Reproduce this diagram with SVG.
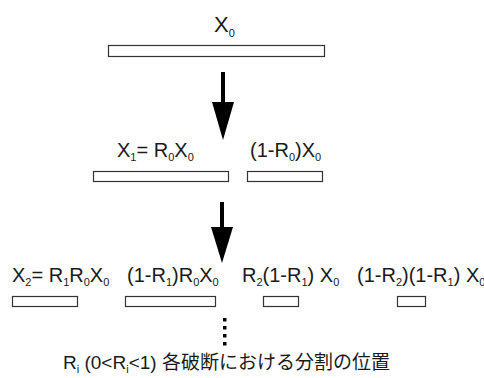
<svg xmlns="http://www.w3.org/2000/svg" width="484" height="378" viewBox="0 0 484 378">
<defs>
<style>
text{font-family:"Liberation Sans","Noto Sans CJK JP",sans-serif;fill:#1a1a1a;font-size:20px}
.s{font-size:11px}
.bar{fill:#fff;stroke:#333;stroke-width:1.2}
.ar{stroke:#000;stroke-width:4}
</style>
</defs>
<rect width="484" height="378" fill="#fff"/>
<g id="top">
<text x="214" y="32" style="font-size:22px">X<tspan class="s" dy="5">0</tspan></text>
<rect class="bar" x="108.5" y="45.5" width="216" height="11"/>
</g>
<g id="row1-left">
<text x="117" y="157">X<tspan class="s" dy="4">1</tspan><tspan dy="-4">= R</tspan><tspan class="s" dy="4">0</tspan><tspan dy="-4">X</tspan><tspan class="s" dy="4">0</tspan></text>
<rect class="bar" x="93.5" y="171.5" width="135" height="10"/>
</g>
<g id="row1-right">
<text x="250" y="157">(1-R<tspan class="s" dy="4">0</tspan><tspan dy="-4">)X</tspan><tspan class="s" dy="4">0</tspan></text>
<rect class="bar" x="247.5" y="171.5" width="75" height="10"/>
</g>
<g id="row2-a">
<text x="12" y="282">X<tspan class="s" dy="4">2</tspan><tspan dy="-4">= R</tspan><tspan class="s" dy="4">1</tspan><tspan dy="-4">R</tspan><tspan class="s" dy="4">0</tspan><tspan dy="-4">X</tspan><tspan class="s" dy="4">0</tspan></text>
<rect class="bar" x="12.5" y="296.5" width="65" height="10"/>
</g>
<g id="row2-b">
<text x="127" y="282">(1-R<tspan class="s" dy="4">1</tspan><tspan dy="-4">)R</tspan><tspan class="s" dy="4">0</tspan><tspan dy="-4">X</tspan><tspan class="s" dy="4">0</tspan></text>
<rect class="bar" x="125.5" y="296.5" width="90" height="10"/>
</g>
<g id="row2-c">
<text x="242" y="282">R<tspan class="s" dy="4">2</tspan><tspan dy="-4">(1-R</tspan><tspan class="s" dy="4">1</tspan><tspan dy="-4">) X</tspan><tspan class="s" dy="4">0</tspan></text>
<rect class="bar" x="263.5" y="296.5" width="35" height="10"/>
</g>
<g id="row2-d">
<text x="357" y="282">(1-R<tspan class="s" dy="4">2</tspan><tspan dy="-4">)(1-R</tspan><tspan class="s" dy="4">1</tspan><tspan dy="-4">) X</tspan><tspan class="s" dy="4">0</tspan></text>
<rect class="bar" x="397.5" y="296.5" width="28" height="10"/>
</g>
<g id="connectors">
<line class="ar" x1="223" y1="72" x2="223" y2="104"/>
<polygon points="212,102 234,102 223,140" fill="#000"/>
<line class="ar" x1="222" y1="202" x2="222" y2="229"/>
<polygon points="211,227 233,227 222,263" fill="#000"/>
<g fill="#000">
<rect x="223" y="318" width="3.5" height="3.5"/>
<rect x="223" y="326" width="3.5" height="3.5"/>
<rect x="223" y="334" width="3.5" height="3.5"/>
<rect x="223" y="342" width="3.5" height="3.5"/>
</g>
</g>
<g id="legend">
<text x="63" y="369" style="font-size:19px">R<tspan class="s" dy="4">i</tspan><tspan dy="-4"> (0&lt;R</tspan><tspan class="s" dy="4">i</tspan><tspan dy="-4">&lt;1) 各破断における分割の位置</tspan></text>
</g>
</svg>
